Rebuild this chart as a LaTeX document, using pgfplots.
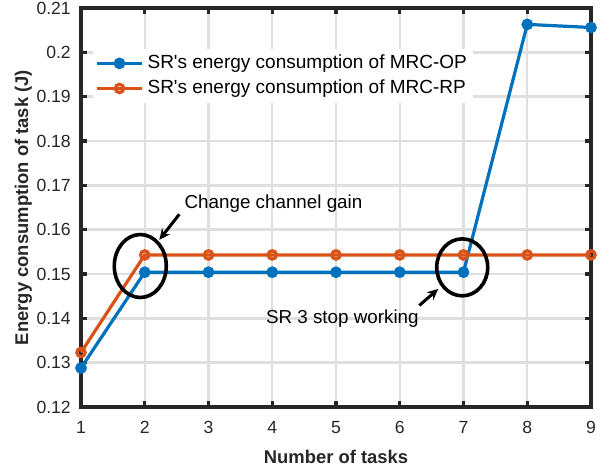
\documentclass[border=0pt]{standalone}
\usepackage{fontspec}
\setmainfont{Liberation Sans}
\usepackage{pgfplots}
\pgfplotsset{compat=1.18}
\usetikzlibrary{arrows.meta}

\definecolor{mblue}{RGB}{0,114,189}
\definecolor{morange}{RGB}{217,83,25}
\definecolor{axgray}{RGB}{38,38,38}
\definecolor{gridgray}{RGB}{223,223,223}

\newcommand{\lblfont}{\fontsize{9.2bp}{11bp}\selectfont\bfseries}

\begin{document}
\begin{tikzpicture}
\begin{axis}[
  scale only axis,
  width=255bp, height=199.5bp,
  xmin=1, xmax=9, ymin=0.12, ymax=0.21,
  xtick={1,2,3,4,5,6,7,8,9},
  ytick={0.12,0.13,0.14,0.15,0.16,0.17,0.18,0.19,0.2,0.21},
  yticklabels={0.12,0.13,0.14,0.15,0.16,0.17,0.18,0.19,0.2,0.21},
  grid=major,
  major grid style={gridgray, line width=1.2bp},
  axis line style={axgray, line width=1.8bp},
  tick style={axgray, line width=1.6bp},
  tick align=inside, tick pos=both,
  major tick length=3bp,
  /pgf/number format/assume math mode=true,
  ticklabel style={font=\fontsize{8.8bp}{10bp}\selectfont, text=axgray},
  yticklabel style={xshift=-1.6bp},
  xticklabel style={yshift=-3.5bp},
  xlabel={\lblfont Number of tasks},
  ylabel={\lblfont Energy consumption of task (J)},
  every axis x label/.style={at={(axis description cs:0.5,-0.1253)}, anchor=center, text=axgray},
  every axis y label/.style={at={(axis description cs:-0.1127,0.5)}, rotate=90, anchor=center, text=axgray},
  clip=false,
  legend cell align=left,
  legend style={at={(axis description cs:0,1)}, anchor=north west,
    xshift=6bp, yshift=-20.25bp, draw=none, fill=white, inner sep=1bp,
    font=\fontsize{9.5bp}{11bp}\selectfont,
    nodes={inner ysep=1.75bp, text height=7bp, text depth=2bp}},
  legend image code/.code={
    \draw[mark repeat=2, mark phase=2] plot coordinates {(0bp,0bp) (11.25bp,0bp) (22.5bp,0bp)};
  },
]
\addplot[mblue, line width=1.6bp, mark=*, mark size=2.1bp, mark options={solid, fill=mblue}]
  coordinates {(1,0.1288) (2,0.1504) (3,0.1504) (4,0.1504) (5,0.1504) (6,0.1504) (7,0.1504) (8,0.2063) (9,0.2056)};
\addlegendentry{SR\textquotesingle s energy consumption of MRC-OP}
\addplot[morange, line width=1.6bp, mark=o, mark size=2.1bp, mark options={solid}]
  coordinates {(1,0.1323) (2,0.1543) (3,0.1543) (4,0.1543) (5,0.1543) (6,0.1543) (7,0.1543) (8,0.1543) (9,0.1543)};
\addlegendentry{SR\textquotesingle s energy consumption of MRC-RP}

\draw[black, line width=1.8bp] (axis cs:1.93,0.1518) ellipse [x radius=13bp, y radius=15.75bp];
\draw[black, line width=1.8bp] (axis cs:6.98,0.1515) ellipse [x radius=12.75bp, y radius=14.25bp];
\draw[black, line width=1.5bp, -{Stealth[length=5.5bp, width=5bp]}] (axis cs:2.542,0.16347) -- (axis cs:2.228,0.1577);
\draw[black, line width=1.5bp, -{Stealth[length=5.5bp, width=5bp]}] (axis cs:6.307,0.1429) -- (axis cs:6.605,0.14664);
\node[anchor=base, font=\fontsize{9.4bp}{11bp}\selectfont, inner sep=0pt] at (axis cs:4.02,0.16488) {Change channel gain};
\node[anchor=base, font=\fontsize{9.4bp}{11bp}\selectfont, inner sep=0pt] at (axis cs:5.10,0.13885) {SR 3 stop working};
\end{axis}
\pgfresetboundingbox
\path ([xshift=-40.5bp, yshift=-32bp]current axis.south west) rectangle ([xshift=10bp, yshift=4bp]current axis.north east);
\end{tikzpicture}
\end{document}
